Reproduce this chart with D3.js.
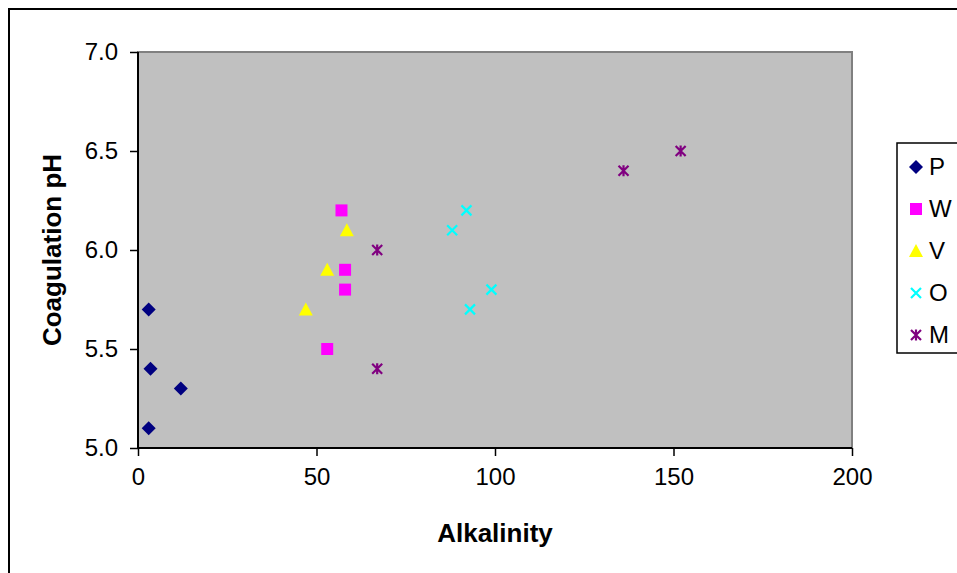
<!DOCTYPE html>
<html>
<head>
<meta charset="UTF-8">
<script src="https://d3js.org/d3.v7.min.js"></script>
<style>
  body { margin: 0; background: #fff; }
  text { font-family: "Liberation Sans", Arial, sans-serif; }
</style>
</head>
<body>
<svg id="vis" width="957" height="573"></svg>
<script>
// data
var seriesNames = ["P", "W", "V", "O", "M"];
var pX = [3, 3.5, 12, 3];
var pY = [5.7, 5.4, 5.3, 5.1];
var wX = [57, 58, 58, 53];
var wY = [6.2, 5.9, 5.8, 5.5];
var vX = [58.5, 53, 47];
var vY = [6.1, 5.9, 5.7];
var oX = [92, 88, 99, 93];
var oY = [6.2, 6.1, 5.8, 5.7];
var mX = [152, 136, 67, 67];
var mY = [6.5, 6.4, 6.0, 5.4];
var xTicks = [0, 50, 100, 150, 200];
var yTicks = [5.0, 5.5, 6.0, 6.5, 7.0];

var allX = [pX, wX, vX, oX, mX];
var allY = [pY, wY, vY, oY, mY];
var colors = ["#000080", "#FF00FF", "#FFFF00", "#00FFFF", "#800080"];
var shapes = ["diamond", "square", "triangle", "x", "star"];

var svg = d3.select("#vis");

// outer chart border
svg.append("rect").attr("x", 9).attr("y", 9).attr("width", 980).attr("height", 600)
  .attr("fill", "none").attr("stroke", "#000").attr("stroke-width", 2);

var pLeft = 138, pTop = 52, pRight = 852, pBottom = 448;

var x = d3.scaleLinear().domain([0, 200]).range([pLeft, pRight]);
var y = d3.scaleLinear().domain([5.0, 7.0]).range([pBottom, pTop]);

// plot area
svg.append("rect").attr("x", pLeft).attr("y", pTop)
  .attr("width", pRight - pLeft).attr("height", pBottom - pTop)
  .attr("fill", "#C0C0C0").attr("stroke", "#808080").attr("stroke-width", 2);

// axes
var xAxis = d3.axisBottom(x).tickValues(xTicks).tickSize(8).tickPadding(12).tickFormat(d3.format("d"));
var yAxis = d3.axisLeft(y).tickValues(yTicks).tickSize(8).tickPadding(12).tickFormat(d3.format(".1f"));

var gx = svg.append("g").attr("transform", "translate(0," + pBottom + ")").call(xAxis);
var gy = svg.append("g").attr("transform", "translate(" + pLeft + ",0)").call(yAxis);
[gx, gy].forEach(function(g) {
  g.select(".domain").attr("stroke", "#000").attr("stroke-width", 2);
  g.selectAll(".tick line").attr("stroke", "#000").attr("stroke-width", 1.5);
  g.selectAll(".tick text").attr("fill", "#000").style("font-size", "24px")
    .style("font-family", "'Liberation Sans', Arial, sans-serif");
});
gx.select(".domain").attr("d", "M" + pLeft + ",0H" + pRight);
gy.select(".domain").attr("d", "M0," + pTop + "V" + pBottom);

// axis titles
svg.append("text").attr("x", (pLeft + pRight) / 2).attr("y", 542)
  .attr("text-anchor", "middle").style("font-size", "26px").style("font-weight", "bold")
  .text("Alkalinity");
svg.append("text").attr("transform", "translate(61," + ((pTop + pBottom) / 2) + ") rotate(-90)")
  .attr("text-anchor", "middle").style("font-size", "26px").style("font-weight", "bold")
  .text("Coagulation pH");

function markerPath(shape) {
  if (shape == "diamond") return "M0,-7L7,0L0,7L-7,0Z";
  if (shape == "square") return "M-6,-6H6V6H-6Z";
  if (shape == "triangle") return "M0,-7L7,6H-7Z";
  if (shape == "x") return "M-5,-5L5,5M5,-5L-5,5";
  return "M-5,-5L5,5M5,-5L-5,5M0,-5.5V5.5";
}

function drawMarker(g, i) {
  var filled = shapes[i] != "x" && shapes[i] != "star";
  g.append("path").attr("d", markerPath(shapes[i]))
    .attr("fill", filled ? colors[i] : "none")
    .attr("stroke", colors[i])
    .attr("stroke-width", filled ? 0 : 2.2);
}

// points
var gPts = svg.append("g");
for (var i = 0; i < seriesNames.length; i++) {
  for (var j = 0; j < allX[i].length; j++) {
    var g = gPts.append("g")
      .attr("transform", "translate(" + x(allX[i][j]) + "," + y(allY[i][j]) + ")");
    drawMarker(g, i);
  }
}

// legend
svg.append("rect").attr("x", 897).attr("y", 143).attr("width", 100).attr("height", 210)
  .attr("fill", "#fff").attr("stroke", "#000").attr("stroke-width", 1.5);
for (var k = 0; k < seriesNames.length; k++) {
  var ly = 167 + k * 42;
  var lg = svg.append("g").attr("transform", "translate(916," + ly + ")");
  drawMarker(lg, k);
  svg.append("text").attr("x", 929).attr("y", ly + 8).style("font-size", "24px")
    .text(seriesNames[k]);
}
</script>
</body>
</html>
